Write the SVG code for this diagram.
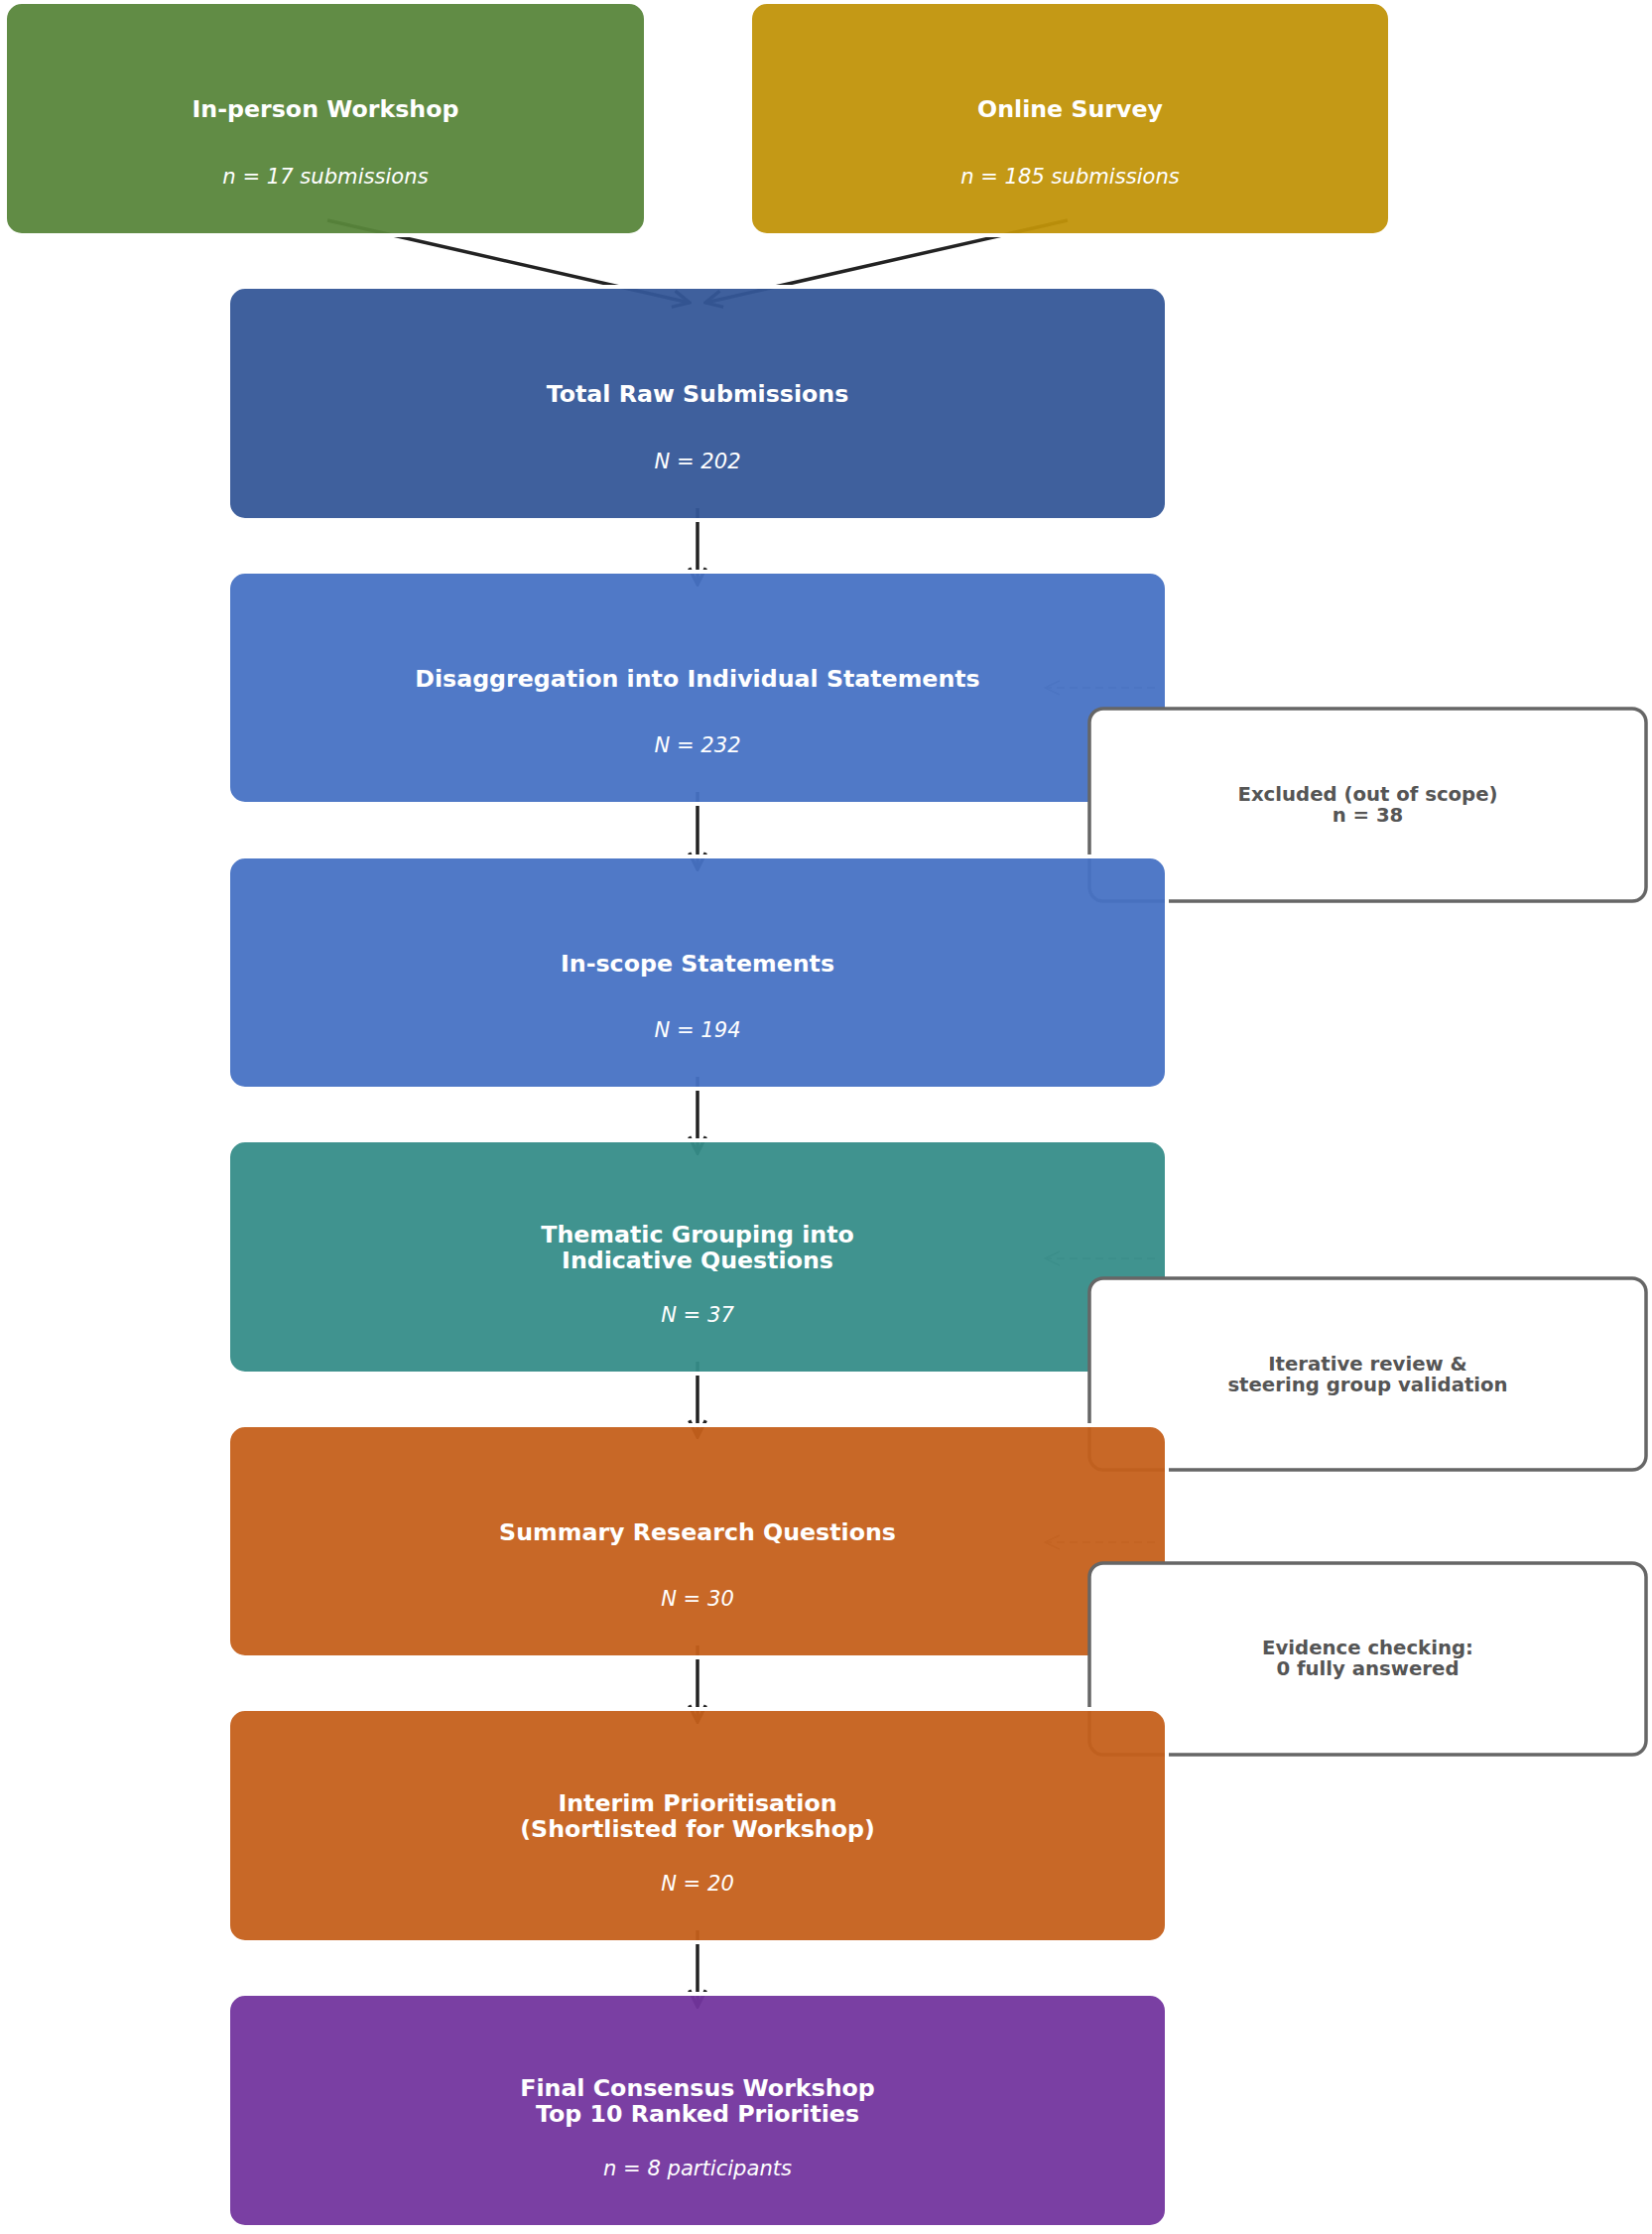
<svg xmlns="http://www.w3.org/2000/svg" width="1665" height="2251" viewBox="0 0 1665 2251">
<style>
.box{stroke:#ffffff;stroke-width:4;fill-opacity:0.95}
.side{fill:#ffffff;stroke:#666666;stroke-width:3.5}
.t{font-family:"DejaVu Sans","Noto Sans",sans-serif;font-weight:bold;font-size:23.7px;fill:#ffffff;text-anchor:middle}
.c{font-family:"DejaVu Sans","Noto Sans",sans-serif;font-style:italic;font-size:21.1px;fill:#ffffff;text-anchor:middle}
.s{font-family:"DejaVu Sans","Noto Sans",sans-serif;font-weight:bold;font-size:19.7px;fill:#555555;text-anchor:middle}
.arr{fill:none;stroke:#222222;stroke-width:3.5;marker-end:url(#ah)}
.dash{fill:none;stroke:#999999;stroke-width:1.5;stroke-dasharray:8 5;marker-end:url(#ahg)}
</style>
<defs>
<marker id="ah" viewBox="0 0 20 20" refX="18" refY="10" markerUnits="userSpaceOnUse" markerWidth="20" markerHeight="20" orient="auto">
<path d="M1.3,1.7 L18,10 L1.3,18.3" fill="none" stroke="#222222" stroke-width="3.5"/>
</marker>
<marker id="ahg" viewBox="0 0 20 20" refX="18" refY="10" markerUnits="userSpaceOnUse" markerWidth="20" markerHeight="20" orient="auto">
<path d="M3,3 L18,10 L3,17" fill="none" stroke="#999999" stroke-width="1.5"/>
</marker>
</defs>
<rect width="1665" height="2251" fill="#ffffff"/>
<g id="connectors">
<line class="arr" x1="330" y1="222" x2="695" y2="305"/>
<line class="arr" x1="1076" y1="222" x2="711" y2="305"/>
<line class="arr" x1="703" y1="512" x2="703" y2="589"/>
<line class="arr" x1="703" y1="798" x2="703" y2="876"/>
<line class="arr" x1="703" y1="1085" x2="703" y2="1162"/>
<line class="arr" x1="703" y1="1372" x2="703" y2="1448"/>
<line class="arr" x1="703" y1="1658" x2="703" y2="1735"/>
<line class="arr" x1="703" y1="1945" x2="703" y2="2022"/>
<line class="dash" x1="1164" y1="693" x2="1053" y2="693"/>
<line class="dash" x1="1164" y1="1268" x2="1053" y2="1268"/>
<line class="dash" x1="1164" y1="1554" x2="1053" y2="1554"/>
</g>
<g id="in-person-workshop">
<rect class="box" x="5" y="2" width="646" height="235" rx="17" fill="#59863B"/>
<text class="t" x="328" y="118">In-person Workshop</text>
<text class="c" x="328" y="185">n = 17 submissions</text>
</g>
<g id="online-survey">
<rect class="box" x="756" y="2" width="645" height="235" rx="17" fill="#C1930A"/>
<text class="t" x="1078.5" y="118">Online Survey</text>
<text class="c" x="1078.5" y="185">n = 185 submissions</text>
</g>
<g id="total-raw">
<rect class="box" x="230" y="289" width="946" height="235" rx="17" fill="#355798"/>
<text class="t" x="703" y="405">Total Raw Submissions</text>
<text class="c" x="703" y="472">N = 202</text>
</g>
<g id="disaggregation">
<rect class="box" x="230" y="576" width="946" height="234" rx="17" fill="#4772C4"/>
<text class="t" x="703" y="691.5">Disaggregation into Individual Statements</text>
<text class="c" x="703" y="758">N = 232</text>
</g>
<g id="excluded">
<rect class="side" x="1098" y="714" width="561" height="194" rx="14"/>
<text class="s" x="1378.5" y="807">Excluded (out of scope)</text>
<text class="s" x="1378.5" y="828">n = 38</text>
</g>
<g id="in-scope">
<rect class="box" x="230" y="863" width="946" height="234" rx="17" fill="#4772C4"/>
<text class="t" x="703" y="978.5">In-scope Statements</text>
<text class="c" x="703" y="1045">N = 194</text>
</g>
<g id="thematic">
<rect class="box" x="230" y="1149" width="946" height="235" rx="17" fill="#368D89"/>
<text class="t" x="703" y="1251.5">Thematic Grouping into</text>
<text class="t" x="703" y="1278">Indicative Questions</text>
<text class="c" x="703" y="1331.5">N = 37</text>
</g>
<g id="iterative">
<rect class="side" x="1098" y="1288" width="561" height="193" rx="14"/>
<text class="s" x="1378.5" y="1380.5">Iterative review &amp;</text>
<text class="s" x="1378.5" y="1401.5">steering group validation</text>
</g>
<g id="summary">
<rect class="box" x="230" y="1436" width="946" height="234" rx="17" fill="#C5601B"/>
<text class="t" x="703" y="1551.5">Summary Research Questions</text>
<text class="c" x="703" y="1618">N = 30</text>
</g>
<g id="evidence">
<rect class="side" x="1098" y="1575" width="561" height="193" rx="14"/>
<text class="s" x="1378.5" y="1667">Evidence checking:</text>
<text class="s" x="1378.5" y="1688">0 fully answered</text>
</g>
<g id="interim">
<rect class="box" x="230" y="1722" width="946" height="235" rx="17" fill="#C5601B"/>
<text class="t" x="703" y="1824.5">Interim Prioritisation</text>
<text class="t" x="703" y="1851">(Shortlisted for Workshop)</text>
<text class="c" x="703" y="1904.5">N = 20</text>
</g>
<g id="final">
<rect class="box" x="230" y="2009" width="946" height="235" rx="17" fill="#73359E"/>
<text class="t" x="703" y="2111.5">Final Consensus Workshop</text>
<text class="t" x="703" y="2138">Top 10 Ranked Priorities</text>
<text class="c" x="703" y="2191.5">n = 8 participants</text>
</g>
</svg>
